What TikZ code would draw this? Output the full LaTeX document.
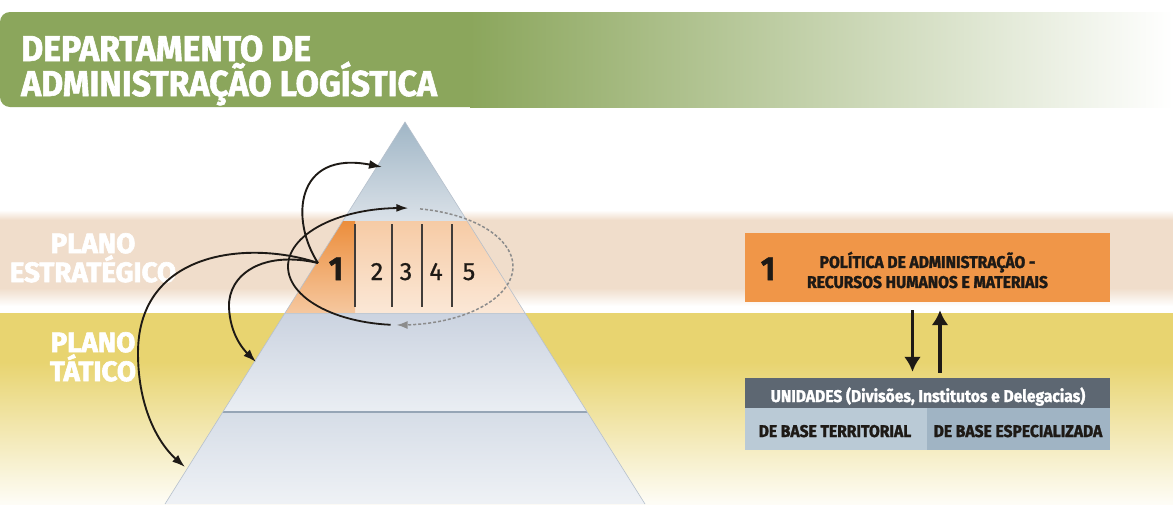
\documentclass[tikz,border=0pt]{standalone}
\usepackage{fontspec}
\newfontfamily\hdrfont[FakeStretch=0.94, BoldFeatures={FakeBold=1.6}]{Fira Sans}
\newfontfamily\lblfont[FakeStretch=0.99, BoldFeatures={FakeBold=2.2}]{Fira Sans}
\newfontfamily\boxfont[FakeStretch=0.92, BoldFeatures={FakeBold=1.6}]{Fira Sans}
\newfontfamily\cellfont[FakeBold=0.8]{Fira Sans}
\usetikzlibrary{arrows.meta}

\definecolor{hdrgreen}{RGB}{139,166,92}
\definecolor{bandpeach}{RGB}{240,221,203}
\definecolor{bandyellow}{RGB}{232,212,112}
\definecolor{pyrtop}{RGB}{160,182,198}
\definecolor{pyrtoplight}{RGB}{218,225,232}
\definecolor{cellorange}{RGB}{236,142,60}
\definecolor{cellpeach}{RGB}{246,203,165}
\definecolor{tactblue}{RGB}{203,211,224}
\definecolor{tactlight}{RGB}{234,238,243}
\definecolor{baseblue}{RGB}{214,221,231}
\definecolor{layerline}{RGB}{150,165,182}
\definecolor{boxorange}{RGB}{240,150,72}
\definecolor{unigray}{RGB}{93,103,114}
\definecolor{terrblue}{RGB}{186,202,214}
\definecolor{espblue}{RGB}{160,180,196}
\definecolor{inkdark}{RGB}{30,26,22}

\begin{document}
\begin{tikzpicture}[x=1pt,y=-1pt]
\tikzset{hdrtext/.style={anchor=base west, inner sep=0pt, text=white,
    font=\hdrfont\bfseries\fontsize{36}{36}\selectfont}}
\tikzset{planlabel/.style={anchor=base, inner sep=0pt, text=white,
    font=\lblfont\bfseries\fontsize{28}{28}\selectfont}}
\tikzset{cellnum/.style={anchor=base, inner sep=0pt, text=inkdark,
    font=\cellfont\fontsize{25}{25}\selectfont}}
\tikzset{curvearrow/.style={-{Latex[length=13pt,width=9pt]}, line width=1.9pt, inkdark}}
\tikzset{cyclearrow/.style={-{Latex[length=12pt,width=8pt]}, line width=1.8pt, inkdark}}
\tikzset{dasharrow/.style={-{Latex[length=11pt,width=8pt]}, line width=1.5pt,
    black!45, dash pattern=on 3pt off 2pt}}
\tikzset{vertarrow/.style={-{Latex[length=15pt,width=17pt]}, line width=3.2pt, inkdark}}
\tikzset{smallcaps/.style={inner sep=0pt, font=\boxfont\bfseries\fontsize{17}{20}\selectfont}}
\useasboundingbox (0,0) rectangle (1173,504);
%bands
\fill[white] (0,0) rectangle (1173,504);
\shade[top color=white, bottom color=bandpeach] (0,210) rectangle (1173,220);
\fill[bandpeach] (0,220) rectangle (1173,288);
\shade[top color=bandpeach, bottom color=white] (0,288) rectangle (1173,306);
\fill[bandyellow] (0,313) rectangle (1173,362);
\shade[top color=bandyellow, bottom color=bandyellow!6!white] (0,362) rectangle (1173,504);
%header
\fill[hdrgreen, rounded corners=10pt] (0,12) rectangle (500,107);
\shade[left color=hdrgreen, right color=white] (470,12) rectangle (1173,107);
\node[hdrtext] (title1) at (21,61) {DEPARTAMENTO DE};
\node[hdrtext] (title2) at (21,96) {ADMINISTRAÇÃO LOGÍSTICA};
%labels
\node[planlabel] (estr1) at (93,253) {PLANO};
\node[planlabel] (estr2) at (93,282) {ESTRATÉGICO};
\node[planlabel] (tat1) at (93,352) {PLANO};
\node[planlabel] (tat2) at (93,381) {TÁTICO};
%pyramid
\begin{scope}
  \clip (405,122) -- (165,504) -- (645,504) -- cycle;
  \shade[top color=pyrtop, bottom color=pyrtoplight] (165,122) rectangle (645,221);
  \shade[top color=cellpeach, bottom color=cellpeach!45!white] (165,221) rectangle (645,313);
  \shade[top color=cellorange, bottom color=cellorange!45!cellpeach!70!white] (165,221) rectangle (355,313);
  \shade[top color=tactblue, bottom color=tactlight] (165,313) rectangle (645,412);
  \shade[top color=baseblue, bottom color=baseblue!40!white] (165,412) rectangle (645,504);
\end{scope}
\draw[layerline!60, line width=1pt] (285,313) -- (525,313);
\draw[layerline, line width=1.4pt] (223,412) -- (587,412);
\draw[layerline!70, line width=0.6pt] (165,504) -- (405,122) -- (645,504);
\foreach \xd in {355,392,422,452}
  \draw[inkdark!85, line width=1.1pt] (\xd,224) -- (\xd,307);
%cells
\node[anchor=base, inner sep=0pt, text=inkdark, font=\boxfont\bfseries\fontsize{33}{33}\selectfont] (one) at (336,280) {1};
\foreach \num/\xpos in {2/377,3/406,4/436,5/469}
  \node[cellnum] (cell\num) at (\xpos,280) {\num};
%arrows
\coordinate (hub) at (318,263);
\coordinate (apexTip) at (382,167);
\coordinate (tactTip) at (256,362);
\coordinate (baseTip) at (185,467);
\draw[curvearrow] (hub) .. controls (290,220) and (295,150) .. (apexTip);
\draw[curvearrow] (hub) .. controls (262,250) and (228,275) .. (229,307)
  .. controls (230,335) and (244,350) .. (tactTip);
\draw[curvearrow] (hub) .. controls (250,240) and (138,250) .. (138,353)
  .. controls (138,410) and (160,445) .. (baseTip);
\draw[cyclearrow] plot[domain=95:274, samples=60, variable=\t]
  ({400.5+112.5*cos(\t)},{266.5+58.5*sin(\t)});
\draw[dasharrow] plot[domain=-80:92, samples=60, variable=\t]
  ({400.5+112.5*cos(\t)},{266.5+58.5*sin(\t)});
%right side
\node[fill=boxorange, minimum width=365pt, minimum height=69pt, inner sep=0pt] (pol) at (927.5,267.5) {};
\node[anchor=base, inner sep=0pt, text=inkdark, font=\boxfont\bfseries\fontsize{33}{33}\selectfont] (polone) at (768,280) {1};
\node[smallcaps, align=center, text=inkdark] (poltxt) at (927.5,270) {POLÍTICA DE ADMINISTRAÇÃO -\\RECURSOS HUMANOS E MATERIAIS};
\node[fill=unigray, minimum width=365pt, minimum height=30pt, inner sep=0pt] (uni) at (927.5,393) {};
\node[smallcaps, anchor=base, text=white] (unitxt) at (928,402) {UNIDADES (Divisões, Institutos e Delegacias)};
\node[fill=terrblue, minimum width=182pt, minimum height=42pt, inner sep=0pt] (terr) at (836,428.5) {};
\node[fill=espblue, minimum width=183pt, minimum height=42pt, inner sep=0pt] (esp) at (1018.5,428.5) {};
\node[smallcaps, anchor=base, text=inkdark] (terrtxt) at (835,437) {DE BASE TERRITORIAL};
\node[smallcaps, anchor=base, text=inkdark] (esptxt) at (1018,437) {DE BASE ESPECIALIZADA};
\draw[vertarrow] ([xshift=-15pt,yshift=-8pt]pol.south) -- ([xshift=-15pt,yshift=6pt]uni.north);
\draw[vertarrow] ([xshift=12.5pt,yshift=5pt]uni.north) -- ([xshift=12.5pt,yshift=-8pt]pol.south);
\end{tikzpicture}
\end{document}
